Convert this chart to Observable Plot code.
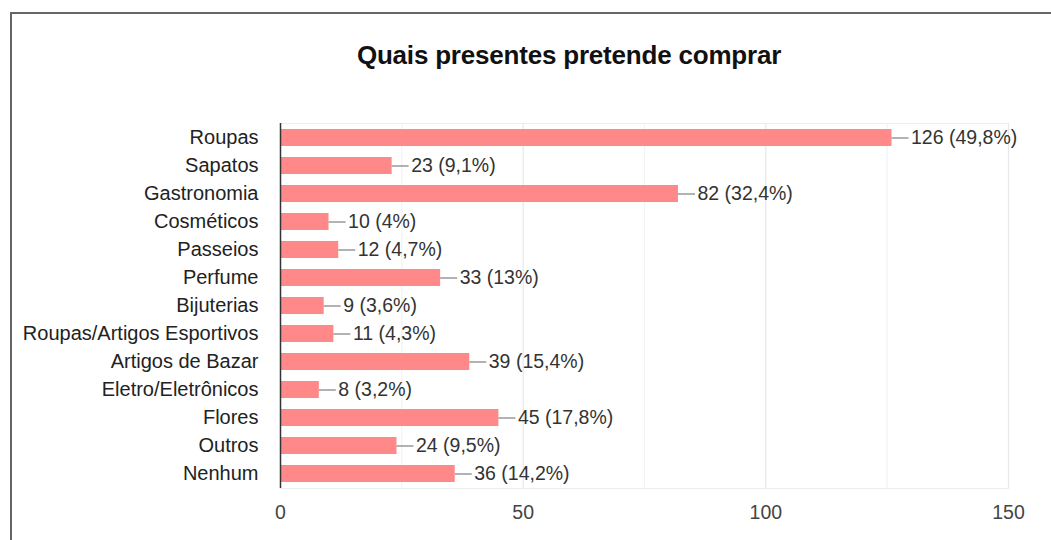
<!DOCTYPE html>
<html>
<head>
<meta charset="utf-8">
<script src="https://cdn.jsdelivr.net/npm/d3@7"></script>
<script src="https://cdn.jsdelivr.net/npm/@observablehq/plot@0.6"></script>
<style>
  html, body { margin: 0; padding: 0; background: #fff; overflow: hidden; }
  #wrap { position: relative; width: 1051px; height: 540px; font-family: "Liberation Sans", Arial, sans-serif; }
  #border { position: absolute; left: 10px; top: 12px; right: -4px; bottom: -4px; border-top: 2px solid #666; border-left: 2px solid #666; }
  #title { position: absolute; left: 569px; top: 40px; transform: translateX(-50%); white-space: nowrap;
           font-size: 26px; font-weight: bold; color: #111; letter-spacing: -0.2px; }
  #chart { position: absolute; left: 0; top: 0; }
</style>
</head>
<body>
<div id="wrap">
  <div id="chart"></div>
  <div id="border"></div>
  <div id="title">Quais presentes pretende comprar</div>
</div>
<script>
const categories = ["Roupas", "Sapatos", "Gastronomia", "Cosméticos", "Passeios", "Perfume", "Bijuterias",
  "Roupas/Artigos Esportivos", "Artigos de Bazar", "Eletro/Eletrônicos", "Flores", "Outros", "Nenhum"];
const counts = [126, 23, 82, 10, 12, 33, 9, 11, 39, 8, 45, 24, 36];
const percents = ["49,8", "9,1", "32,4", "4", "4,7", "13", "3,6", "4,3", "15,4", "3,2", "17,8", "9,5", "14,2"];
const xTicks = [0, 50, 100, 150];
const majorGrid = [50, 100, 150];
const minorGrid = [25, 75, 125];

const data = categories.map((c, i) => ({cat: c, value: counts[i], pct: percents[i]}));

const chart = Plot.plot({
  width: 1051,
  height: 540,
  marginLeft: 280,
  marginRight: 43,
  marginTop: 123,
  marginBottom: 52,
  style: {background: "transparent", fontFamily: "'Liberation Sans', Arial, sans-serif", color: "#222"},
  x: {domain: [0, 150]},
  y: {domain: categories, paddingInner: 0.39, paddingOuter: 0.2},
  marks: [
    Plot.frame({stroke: "#ececec"}),
    Plot.ruleX(minorGrid, {stroke: "#f3f3f3", strokeWidth: 1.2}),
    Plot.ruleX(majorGrid, {stroke: "#e8e8e8", strokeWidth: 1.2}),
    Plot.barX(data, {y: "cat", x: "value", fill: "#ff8888"}),
    Plot.ruleY(data, {y: "cat", x1: "value", x2: "value", insetLeft: 0, insetRight: -17, stroke: "#999", strokeWidth: 1.5}),
    Plot.text(data, {y: "cat", x: "value", text: d => `${d.value} (${d.pct}%)`, dx: 19, textAnchor: "start",
      fontSize: 19.5, fill: "#333"}),
    Plot.ruleX([0], {stroke: "#333", strokeWidth: 1.5}),
    Plot.axisY({tickSize: 0, tickPadding: 22, fontSize: 20, color: "#222", label: null}),
    Plot.axisX({ticks: xTicks, tickSize: 0, tickPadding: 17, fontSize: 19.5, color: "#444", label: null})
  ]
});
document.getElementById("chart").appendChild(chart);
</script>
</body>
</html>
